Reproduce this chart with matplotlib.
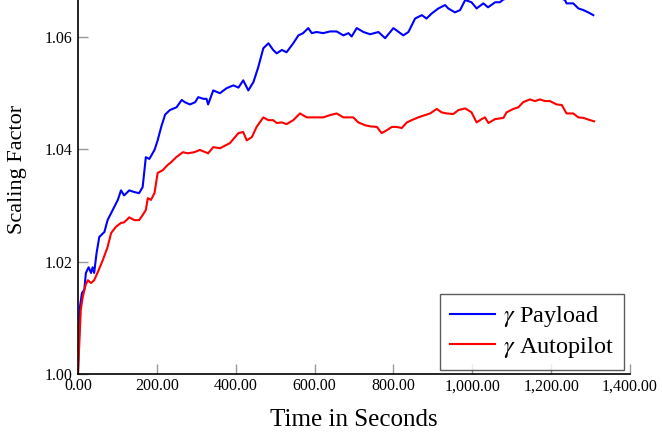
import matplotlib
matplotlib.use("Agg")
import matplotlib.pyplot as plt
from matplotlib.ticker import FuncFormatter

plt.rcParams['font.family'] = ['Liberation Serif', 'DejaVu Serif']
plt.rcParams['mathtext.fontset'] = 'stix'

# Data (time in seconds, scaling factor)
payload_t = [0, 5, 10, 16, 20, 27, 33, 37, 41, 47, 54, 67, 75, 88, 101, 109, 117, 130, 143, 155,
             164, 172, 181, 194, 202, 211, 221, 233, 250, 263, 271, 284, 297, 305, 318, 326, 330,
             343, 360, 377, 394, 407, 419, 432, 445, 457, 470, 483, 495, 504, 517, 529, 546, 559,
             571, 584, 593, 605, 622, 639, 656, 673, 686, 694, 707, 724, 741, 762, 779, 800, 825,
             838, 855, 872, 884, 897, 914, 931, 939, 956, 969, 982, 998, 1011, 1028, 1040, 1058,
             1070, 1079, 1090, 1110, 1130, 1150, 1170, 1190, 1210, 1228, 1235, 1239, 1256, 1269,
             1282, 1294, 1307]
payload_v = [1.001, 1.012, 1.0144, 1.015, 1.018, 1.019, 1.018, 1.019, 1.018, 1.0215, 1.0244, 1.0253,
             1.0274, 1.0292, 1.031, 1.0327, 1.0318, 1.0327, 1.0324, 1.0322, 1.0333, 1.0386, 1.0383,
             1.0399, 1.0416, 1.044, 1.0462, 1.047, 1.0475, 1.0488, 1.0484, 1.048, 1.0484, 1.0493,
             1.049, 1.049, 1.048, 1.0505, 1.05, 1.0509, 1.0514, 1.051, 1.0523, 1.0505, 1.052, 1.0546,
             1.058, 1.0589, 1.0577, 1.0571, 1.0577, 1.0573, 1.0589, 1.0603, 1.0607, 1.0616, 1.0607,
             1.0609, 1.0607, 1.061, 1.061, 1.0603, 1.0607, 1.0601, 1.0616, 1.0609, 1.0605, 1.0609,
             1.0598, 1.0616, 1.0603, 1.0609, 1.0633, 1.0639, 1.0633, 1.0642, 1.0651, 1.0657, 1.0651,
             1.0644, 1.0648, 1.0666, 1.0662, 1.0651, 1.066, 1.0653, 1.0662, 1.0662, 1.0667, 1.0669,
             1.0672, 1.0675, 1.068, 1.0678, 1.0676, 1.0672, 1.0668, 1.0666, 1.066, 1.066, 1.0651,
             1.0648, 1.0644, 1.0639]

autopilot_t = [0, 7, 12, 19, 25, 33, 41, 50, 63, 75, 84, 96, 109, 117, 130, 143, 155, 164, 172, 177,
               185, 194, 202, 215, 227, 236, 249, 266, 278, 295, 309, 330, 343, 360, 385, 407, 419,
               428, 441, 453, 470, 483, 495, 504, 517, 529, 546, 563, 580, 601, 622, 639, 656, 673,
               698, 711, 728, 741, 758, 770, 783, 796, 808, 821, 834, 846, 863, 880, 893, 910, 922,
               935, 952, 965, 982, 998, 1011, 1024, 1032, 1041, 1058, 1079, 1087, 1104, 1117, 1129,
               1146, 1159, 1172, 1184, 1197, 1214, 1227, 1239, 1256, 1269, 1282, 1299, 1309]
autopilot_v = [1.000, 1.0114, 1.0137, 1.0158, 1.0167, 1.0162, 1.0167, 1.0181, 1.0203, 1.0226, 1.0251,
               1.0262, 1.0269, 1.027, 1.0279, 1.0274, 1.0274, 1.0283, 1.0292, 1.0313, 1.031, 1.0322,
               1.0358, 1.0363, 1.0372, 1.0377, 1.0386, 1.0395, 1.0393, 1.0395, 1.0399, 1.0393, 1.0404,
               1.0402, 1.0411, 1.0429, 1.0431, 1.0416, 1.0422, 1.044, 1.0457, 1.0452, 1.0452, 1.0447,
               1.0448, 1.0445, 1.0452, 1.0464, 1.0457, 1.0457, 1.0457, 1.0461, 1.0464, 1.0457, 1.0457,
               1.0448, 1.0443, 1.0441, 1.044, 1.0429, 1.0434, 1.044, 1.044, 1.0438, 1.0448, 1.0452,
               1.0457, 1.0461, 1.0464, 1.0472, 1.0466, 1.0464, 1.0463, 1.047, 1.0473, 1.0466, 1.0448,
               1.0454, 1.0457, 1.0447, 1.0454, 1.0456, 1.0466, 1.0472, 1.0475, 1.0484, 1.0489, 1.0486,
               1.0489, 1.0486, 1.0486, 1.048, 1.0479, 1.0464, 1.0464, 1.0457, 1.0456, 1.0452, 1.045]

x_ticks = [0, 200, 400, 600, 800, 1000, 1200, 1400]
y_ticks = [1.00, 1.02, 1.04, 1.06]

fig = plt.figure(figsize=(6.62, 4.36), dpi=100)
ax = fig.add_axes([78/662, 62/436, (630-78)/662, 374/436])

ax.plot(payload_t, payload_v, color='#0000ff', lw=1.5, label=r'$\gamma$ Payload')
ax.plot(autopilot_t, autopilot_v, color='#ff0000', lw=1.5, label=r'$\gamma$ Autopilot')

ax.set_xlim(0, 1400)
ax.set_ylim(1.0, 1.0666)
ax.set_xticks(x_ticks)
ax.set_yticks(y_ticks)
ax.xaxis.set_major_formatter(FuncFormatter(lambda v, p: f"{v:,.2f}"))
ax.yaxis.set_major_formatter(FuncFormatter(lambda v, p: f"{v:.2f}"))

for s in ['top', 'right']:
    ax.spines[s].set_visible(False)
for s in ['left', 'bottom']:
    ax.spines[s].set_linewidth(1.2)
    ax.spines[s].set_color('black')

ax.tick_params(axis='both', direction='in', length=7, width=1.0, color='#999999',
               labelsize=11.5, pad=4)
ax.tick_params(axis='x', pad=3)

ax.set_xlabel('Time in Seconds', fontsize=18)
ax.set_ylabel('Scaling Factor', fontsize=16)
ax.xaxis.set_label_coords(0.499, -0.123)
ax.yaxis.set_label_coords(-0.11, 0.547)
ax.xaxis.label.set_va('center')
ax.yaxis.label.set_va('center')

leg = ax.legend(loc='lower right', bbox_to_anchor=(0.989, 0.0107), fontsize=17.5,
                frameon=True, fancybox=False, borderaxespad=0, handlelength=1.85,
                handletextpad=0.33, borderpad=0.42, labelspacing=0.22)
leg.get_frame().set_edgecolor('#333333')
leg.get_frame().set_linewidth(1.0)

fig.savefig('out.png', dpi=100)
